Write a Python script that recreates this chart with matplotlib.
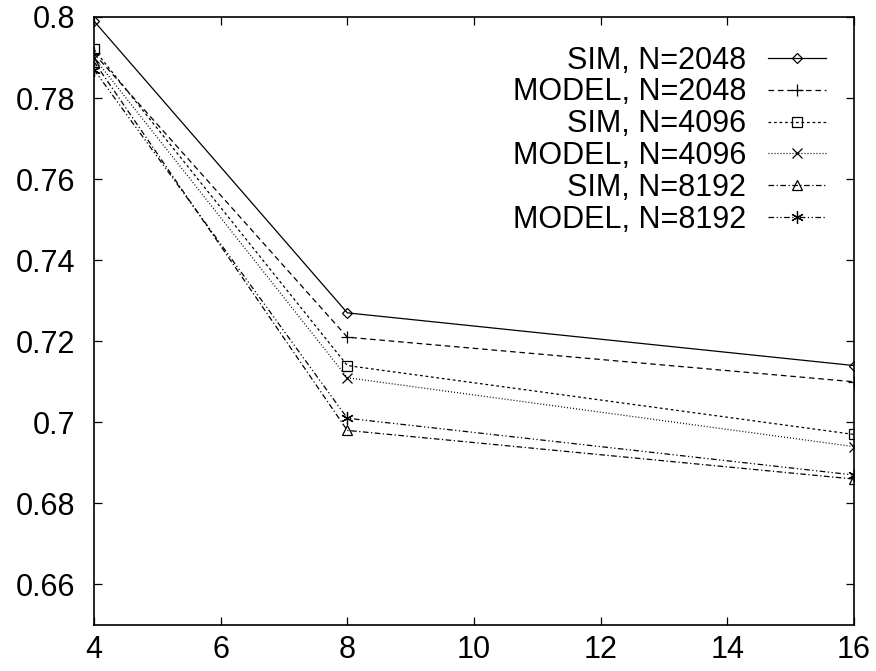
import matplotlib
matplotlib.use("Agg")
import matplotlib.pyplot as plt

plt.rcParams['font.family'] = ['Liberation Sans', 'DejaVu Sans']

# data
x_vals = [4, 8, 16]
sim_2048 = [0.799, 0.727, 0.714]
model_2048 = [0.791, 0.721, 0.710]
sim_4096 = [0.792, 0.714, 0.697]
model_4096 = [0.790, 0.711, 0.694]
sim_8192 = [0.789, 0.698, 0.686]
model_8192 = [0.787, 0.701, 0.687]

labels = ["SIM, N=2048", "MODEL, N=2048", "SIM, N=4096",
          "MODEL, N=4096", "SIM, N=8192", "MODEL, N=8192"]
x_ticks = [4, 6, 8, 10, 12, 14, 16]
y_ticks = [0.66, 0.68, 0.7, 0.72, 0.74, 0.76, 0.78, 0.8]
y_ticklabels = ["0.66", "0.68", "0.7", "0.72", "0.74", "0.76", "0.78", "0.8"]

# gnuplot-like styles: (linestyle, marker, size)
styles = [
    ('-', 'D', 5.5),
    ((0, (4.5, 3)), '+', 9),
    ((0, (2.2, 2.2)), 's', 7),
    ((0, (0.8, 1.6)), 'x', 7),
    ((0, (4.5, 2, 1, 2)), '^', 7),
    ((0, (4.5, 2, 1, 2, 1, 2)), (6, 2, 0), 9),
]

fig = plt.figure(figsize=(8.76, 6.71), dpi=100)
ax = fig.add_axes([0.1073, 0.0686, 0.8676, 0.9061])

series = [sim_2048, model_2048, sim_4096, model_4096, sim_8192, model_8192]
for y, lab, (ls, mk, ms) in zip(series, labels, styles):
    ax.plot(x_vals, y, color='black', lw=0.9, linestyle=ls, marker=mk,
            markersize=ms, markerfacecolor='none', markeredgecolor='black',
            markeredgewidth=0.9, label=lab)

ax.set_xlim(4, 16)
ax.set_ylim(0.65, 0.8)
ax.set_xticks(x_ticks)
ax.set_yticks(y_ticks)
ax.set_yticklabels(y_ticklabels)
ax.tick_params(direction='in', length=6, width=0.9, labelsize=22,
               top=True, right=True)
ax.tick_params(axis='y', pad=13.5)
ax.tick_params(axis='x', pad=7)
for sp in ax.spines.values():
    sp.set_linewidth(1.2)

ax.legend(loc='upper right', bbox_to_anchor=(0.987, 0.983), frameon=False,
          markerfirst=False, fontsize=22, handlelength=1.9, handletextpad=0.7,
          labelspacing=0.06, borderaxespad=0.2)
for t in ax.get_legend().get_texts():
    t.set_ha('right')
ax.get_legend()._legend_box.align = "right"

fig.savefig("out.png", dpi=100)
